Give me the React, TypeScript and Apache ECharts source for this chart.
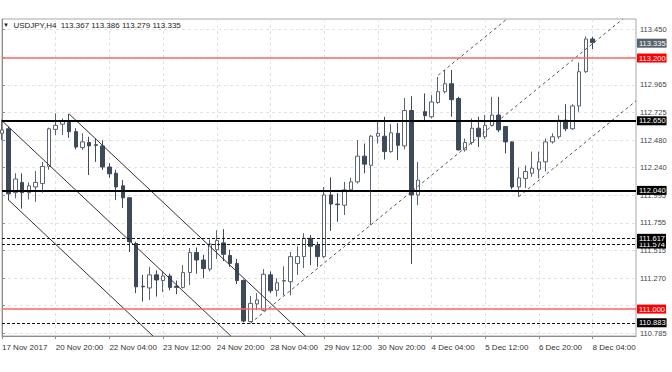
import React, { useEffect, useRef } from 'react';
import * as echarts from 'echarts';

// x positions are bar indexes (H4 bars); tick labels every 8 bars
const xTickIndex = [0, 8, 16, 24, 32, 40, 48, 56, 64, 72, 80, 88];
const xTickLabels = ['17 Nov 2017', '20 Nov 20:00', '22 Nov 04:00', '23 Nov 12:00', '24 Nov 20:00', '28 Nov 04:00', '29 Nov 12:00', '30 Nov 20:00', '4 Dec 04:00', '5 Dec 12:00', '6 Dec 20:00', '8 Dec 04:00'];
const yTicks = [110.785, 111.030, 111.270, 111.515, 111.755, 111.995, 112.240, 112.480, 112.725, 112.965, 113.205, 113.450];
// tick labels fully hidden behind level boxes in the reference
const yHiddenLabels = [111.030, 113.205];

const opens = [
  112.54, 112.58, 112.02, 112.11, 112.02, 112.07, 112.10, 112.25, 112.575, 112.62,
  112.635, 112.555, 112.415, 112.46, 112.44, 112.43, 112.245, 112.19, 112.08, 111.975,
  111.575, 111.20, 111.185, 111.30, 111.25, 111.29, 111.20, 111.19, 111.32, 111.495,
  111.43, 111.35, 111.52, 111.58, 111.47, 111.40, 111.25, 110.89, 111.045, 110.99,
  111.30, 111.165, 111.245, 111.24, 111.40, 111.46, 111.62, 111.56, 111.46, 112.00,
  111.92, 111.91, 112.045, 112.115, 112.34, 112.26, 112.515, 112.515, 112.38, 112.54,
  112.43, 112.74, 112.00, 112.73, 112.685, 112.81, 112.905, 112.975, 112.845, 112.395,
  112.46, 112.585, 112.51, 112.61, 112.70, 112.60, 112.465, 112.07, 112.145, 112.19,
  112.225, 112.29, 112.465, 112.51, 112.655, 112.58, 112.78, 113.08, 113.367,
];
const closes = [
  112.57, 112.01, 112.14, 112.02, 112.08, 112.11, 112.25, 112.58, 112.61, 112.65,
  112.555, 112.42, 112.465, 112.43, 112.435, 112.245, 112.185, 112.07, 111.975, 111.59,
  111.195, 111.195, 111.30, 111.255, 111.29, 111.19, 111.19, 111.32, 111.495, 111.43,
  111.355, 111.57, 111.60, 111.48, 111.40, 111.25, 110.895, 111.05, 111.08, 111.305,
  111.16, 111.23, 111.25, 111.46, 111.46, 111.62, 111.55, 111.46, 112.00, 111.92,
  111.915, 112.045, 112.115, 112.34, 112.27, 112.515, 112.54, 112.38, 112.545, 112.435,
  112.74, 112.00, 112.13, 112.695, 112.815, 112.905, 112.975, 112.835, 112.395, 112.46,
  112.585, 112.51, 112.61, 112.70, 112.57, 112.465, 112.07, 112.15, 112.205, 112.235,
  112.29, 112.465, 112.51, 112.655, 112.58, 112.78, 113.08, 113.367, 113.335,
];
const lows = [
  112.48, 111.955, 111.97, 111.88, 111.96, 111.94, 112.02, 112.22, 112.525, 112.525,
  112.50, 112.40, 112.395, 112.175, 112.29, 112.22, 112.15, 111.955, 111.885, 111.50,
  111.14, 111.065, 111.08, 111.11, 111.15, 111.165, 111.13, 111.18, 111.21, 111.31,
  111.27, 111.33, 111.44, 111.42, 111.37, 111.22, 110.883, 110.885, 110.99, 110.98,
  111.14, 111.11, 111.12, 111.12, 111.30, 111.36, 111.385, 111.37, 111.445, 111.685,
  111.765, 111.825, 112.03, 112.10, 112.19, 111.735, 112.45, 112.31, 112.37, 112.305,
  112.40, 111.395, 111.91, 112.64, 112.67, 112.80, 112.89, 112.685, 112.39, 112.38,
  112.44, 112.42, 112.49, 112.60, 112.55, 112.365, 112.05, 111.985, 112.06, 112.16,
  112.145, 112.205, 112.45, 112.49, 112.56, 112.57, 112.73, 113.07, 113.279,
];
const highs = [
  112.66, 112.60, 112.19, 112.19, 112.11, 112.21, 112.29, 112.59, 112.715, 112.67,
  112.71, 112.585, 112.54, 112.51, 112.495, 112.48, 112.28, 112.22, 112.13, 111.98,
  111.59, 111.30, 111.37, 111.34, 111.33, 111.31, 111.25, 111.385, 111.535, 111.54,
  111.475, 111.61, 111.69, 111.70, 111.52, 111.44, 111.26, 111.115, 111.14, 111.35,
  111.33, 111.27, 111.375, 111.50, 111.55, 111.665, 111.65, 111.59, 112.07, 112.155,
  112.015, 112.115, 112.15, 112.48, 112.45, 112.525, 112.64, 112.685, 112.62, 112.63,
  112.85, 112.865, 112.29, 112.89, 112.875, 113.035, 113.095, 113.095, 112.86, 112.495,
  112.67, 112.685, 112.70, 112.86, 112.86, 112.60, 112.47, 112.24, 112.26, 112.38,
  112.38, 112.495, 112.54, 112.70, 112.795, 112.795, 113.16, 113.39, 113.386,
];

// horizontal price levels
const levelValues = [113.2, 112.65, 112.04, 111.574, 111.617, 111.0, 110.883, 113.335];
const levelKinds = ['red', 'black', 'black', 'dash', 'dash', 'red', 'dash', 'price'];

// trend lines: [startIndex, startPrice, endIndex, endPrice]
const downLines = [
  [10, 112.71, 45.19, 110.764],
  [0, 112.65, 34.1, 110.764],
  [0.9, 111.96, 22.5, 110.764],
];
const upLines = [
  [37, 110.875, 92.5, 113.542],
  [65, 113.05, 75.24, 113.542],
  [77, 111.985, 94.47, 112.824],
];

const FONT = 'Liberation Sans, Arial, sans-serif';

export default function App() {
  const ref = useRef<HTMLDivElement>(null);
  useEffect(() => {
    const chart = echarts.init(ref.current!, undefined, { renderer: 'svg' });
    const levelData = levelValues.map((v, i) => {
      const k = levelKinds[i];
      const lineStyle =
        k === 'red' ? { color: '#ff6464', width: 1.6, type: 'solid' } :
        k === 'black' ? { color: '#000000', width: 2, type: 'solid' } :
        k === 'dash' ? { color: '#111111', width: 1, type: [3, 2] } :
        { color: 'rgba(0,0,0,0)', width: 1, type: 'solid' };
      const bg = k === 'red' ? '#ff0000' : k === 'price' ? '#56616d' : '#000000';
      return {
        yAxis: v,
        lineStyle,
        label: {
          show: true,
          position: 'end',
          distance: 1,
          formatter: v.toFixed(3),
          color: '#ffffff',
          backgroundColor: bg,
          padding: [1, 1, 0, 2],
          fontSize: 7.5,
          lineHeight: 8,
          fontFamily: FONT,
        },
      };
    });
    const trendData: any[] = [];
    downLines.forEach((l) => {
      trendData.push([
        { coord: [l[0], l[1]], lineStyle: { color: '#333', width: 1, type: 'solid' }, label: { show: false } },
        { coord: [l[2], l[3]] },
      ]);
    });
    upLines.forEach((l) => {
      trendData.push([
        { coord: [l[0], l[1]], lineStyle: { color: '#555', width: 1, type: [3, 3] }, label: { show: false } },
        { coord: [l[2], l[3]] },
      ]);
    });

    chart.setOption({
      animation: false,
      backgroundColor: '#ffffff',
      title: {
        text: '{t|▼}  USDJPY,H4  113.367 113.386 113.279 113.335',
        left: 3,
        top: 21,
        padding: 0,
        textStyle: {
          fontSize: 8,
          fontWeight: 'normal',
          color: '#222',
          fontFamily: FONT,
          rich: { t: { fontSize: 6, color: '#222', fontFamily: FONT } },
        },
      },
      grid: {
        left: 2,
        right: 36,
        top: 19,
        bottom: 36,
        show: true,
        borderColor: '#a8a8a8',
        borderWidth: 1,
        containLabel: false,
        outerBoundsMode: 'none',
      },
      xAxis: {
        type: 'value',
        min: 0,
        max: 94.47,
        axisLine: { show: true, lineStyle: { color: '#8c8c8c' } },
        axisTick: { show: true, length: 3, customValues: xTickIndex, lineStyle: { color: '#8c8c8c' } },
        axisLabel: {
          customValues: xTickIndex,
          formatter: (v: number) => {
            const k = xTickIndex.indexOf(Math.round(v));
            return k >= 0 ? xTickLabels[k] : '';
          },
          align: 'left',
          margin: 7,
          fontSize: 8,
          color: '#333',
          fontFamily: FONT,
        },
        splitLine: { show: true, lineStyle: { color: '#e2e2e2', type: [3, 3], width: 1 } },
      },
      yAxis: {
        type: 'value',
        position: 'right',
        min: 110.764,
        max: 113.542,
        scale: true,
        axisLine: { show: true, lineStyle: { color: '#8c8c8c' } },
        axisTick: { show: true, length: 3, customValues: yTicks, lineStyle: { color: '#8c8c8c' } },
        axisLabel: {
          customValues: yTicks.filter((t) => yHiddenLabels.indexOf(t) < 0),
          formatter: (v: number) => v.toFixed(3),
          margin: 4,
          fontSize: 7.5,
          color: '#444',
          fontFamily: FONT,
        },
        splitLine: { show: true, lineStyle: { color: '#e2e2e2', type: [3, 3], width: 1 } },
      },
      series: [
        {
          type: 'candlestick',
          data: opens.map((o, i) => [i, o, closes[i], lows[i], highs[i]]),
          encode: { x: 0, y: [1, 2, 3, 4] },
          barWidth: 4,
          clip: true,
          itemStyle: {
            color: '#ffffff',
            color0: '#3d4a5b',
            borderColor: '#5a6472',
            borderColor0: '#3d4a5b',
            borderWidth: 1,
          },
          markLine: {
            silent: true,
            symbol: ['none', 'none'],
            animation: false,
            data: [...trendData, ...levelData],
          },
        },
      ],
    });
    return () => chart.dispose();
  }, []);
  return <div ref={ref} style={{ position: 'absolute', left: 0, top: 0, width: 672, height: 372 }} />;
}
